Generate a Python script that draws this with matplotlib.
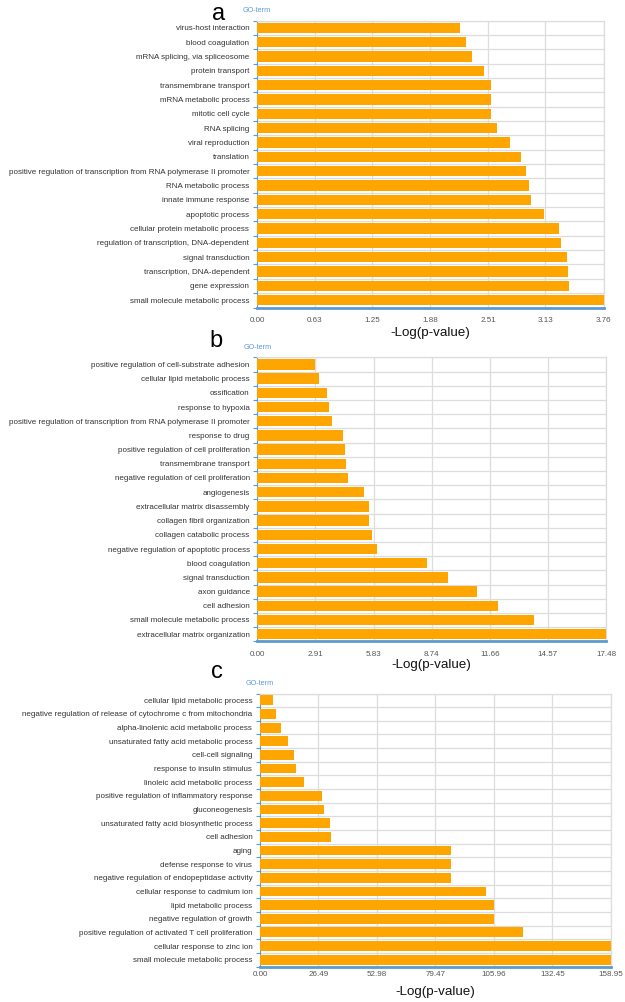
import matplotlib
matplotlib.use("Agg")
import matplotlib.pyplot as plt
import numpy as np

plt.rcParams['font.family'] = ['Liberation Sans', 'DejaVu Sans']

# ---------------- data ----------------
terms_a = ["virus-host interaction", "blood coagulation", "mRNA splicing, via spliceosome",
           "protein transport", "transmembrane transport", "mRNA metabolic process",
           "mitotic cell cycle", "RNA splicing", "viral reproduction", "translation",
           "positive regulation of transcription from RNA polymerase II promoter",
           "RNA metabolic process", "innate immune response", "apoptotic process",
           "cellular protein metabolic process", "regulation of transcription, DNA-dependent",
           "signal transduction", "transcription, DNA-dependent", "gene expression",
           "small molecule metabolic process"]
values_a = [2.20, 2.27, 2.33, 2.46, 2.54, 2.54, 2.54, 2.60, 2.75, 2.87,
            2.92, 2.95, 2.97, 3.11, 3.28, 3.30, 3.36, 3.38, 3.39, 3.76]
ticks_a = [0.00, 0.63, 1.25, 1.88, 2.51, 3.13, 3.76]

terms_b = ["positive regulation of cell-substrate adhesion", "cellular lipid metabolic process",
           "ossification", "response to hypoxia",
           "positive regulation of transcription from RNA polymerase II promoter",
           "response to drug", "positive regulation of cell proliferation",
           "transmembrane transport", "negative regulation of cell proliferation",
           "angiogenesis", "extracellular matrix disassembly", "collagen fibril organization",
           "collagen catabolic process", "negative regulation of apoptotic process",
           "blood coagulation", "signal transduction", "axon guidance", "cell adhesion",
           "small molecule metabolic process", "extracellular matrix organization"]
values_b = [2.88, 3.08, 3.51, 3.58, 3.76, 4.28, 4.38, 4.43, 4.53, 5.35,
            5.60, 5.61, 5.73, 6.00, 8.52, 9.54, 11.00, 12.08, 13.87, 17.48]
ticks_b = [0.00, 2.91, 5.83, 8.74, 11.66, 14.57, 17.48]

terms_c = ["cellular lipid metabolic process",
           "negative regulation of release of cytochrome c from mitochondria",
           "alpha-linolenic acid metabolic process", "unsaturated fatty acid metabolic process",
           "cell-cell signaling", "response to insulin stimulus",
           "linoleic acid metabolic process", "positive regulation of inflammatory response",
           "gluconeogenesis", "unsaturated fatty acid biosynthetic process", "cell adhesion",
           "aging", "defense response to virus", "negative regulation of endopeptidase activity",
           "cellular response to cadmium ion", "lipid metabolic process",
           "negative regulation of growth", "positive regulation of activated T cell proliferation",
           "cellular response to zinc ion", "small molecule metabolic process"]
values_c = [6.0, 7.1, 9.5, 12.7, 15.3, 16.3, 19.9, 28.2, 29.1, 31.5,
            32.3, 86.7, 86.7, 86.7, 102.2, 106.0, 106.0, 119.1, 158.95, 158.95]
ticks_c = [0.00, 26.49, 52.98, 79.47, 105.96, 132.45, 158.95]

panel_letters = ["a", "b", "c"]
xlabel_text = "-Log(p-value)"
header_text = "GO-term"

# ---------------- layout ----------------
W, H = 625, 1002
fig = plt.figure(figsize=(W / 100, H / 100), dpi=100)

BAR = "#FFA500"
GRID = "#dddddd"
BLUE = "#5b9bd5"

# (left, right, top, bottom) in pixels
boxes = [(257, 603.5, 20.6, 307.5), (257.3, 606, 357.3, 641.3), (260, 611, 693.5, 966.5)]
letter_pos = [(219, 14), (216, 341), (217, 672)]
tickpads = [7.0, 7.0, 3.0]
labelpads = [2.2, 0.7, 5.9]

datasets = [(terms_a, values_a, ticks_a), (terms_b, values_b, ticks_b), (terms_c, values_c, ticks_c)]

for (terms, vals, ticks), (l, r, t, b), letter, (lx, ly), tp, lp in zip(
        datasets, boxes, panel_letters, letter_pos, tickpads, labelpads):
    ax = fig.add_axes([l / W, 1 - b / H, (r - l) / W, (b - t) / H])
    n = len(terms)
    y = np.arange(n)
    ax.barh(y, vals, height=0.72, color=BAR, zorder=3)
    ax.set_xlim(ticks[0], ticks[-1])
    ax.set_ylim(n - 0.5, -0.5)
    ax.set_xticks(ticks)
    ax.set_xticklabels([f"{v:.2f}" for v in ticks], fontsize=5.8, color="#555555")
    ax.set_yticks(y)
    ax.set_yticklabels(terms, fontsize=5.8, color="#333333")
    ax.set_yticks(np.arange(n + 1) - 0.5, minor=True)
    ax.tick_params(axis='y', which='major', length=0, pad=5.5)
    ax.tick_params(axis='y', which='minor', length=3, width=0.8, color=BLUE)
    ax.tick_params(axis='x', length=0, pad=tp)
    ax.grid(True, axis='x', which='major', color=GRID, linewidth=0.9, zorder=0)
    ax.grid(True, axis='y', which='minor', color=GRID, linewidth=0.9, zorder=0)
    ax.set_axisbelow(True)
    for s in ("top", "right"):
        ax.spines[s].set_color(GRID)
        ax.spines[s].set_linewidth(0.9)
    ax.spines["left"].set_color(BLUE)
    ax.spines["left"].set_linewidth(0.8)
    ax.spines["bottom"].set_color(BLUE)
    ax.spines["bottom"].set_linewidth(2.0)
    ax.set_xlabel(xlabel_text, fontsize=9.6, color="#111111", labelpad=lp)
    fig.text(l / W, 1 - (t - 10) / H, header_text, fontsize=5.2, color=BLUE,
             ha='center', va='center')
    fig.text(lx / W, 1 - ly / H, letter, fontsize=17, color="black",
             ha='center', va='center')

fig.savefig("out.png", dpi=100)
